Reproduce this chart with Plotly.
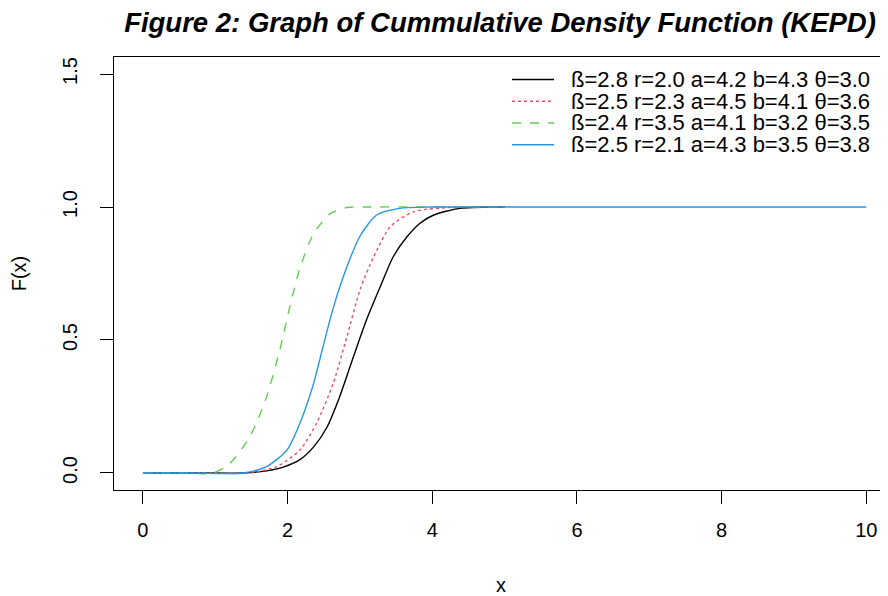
import plotly.graph_objects as go

# Values
x_black = [0, 0.8, 1.39, 1.71, 1.94, 2.17, 2.36, 2.54, 2.72, 2.91, 3.09, 3.28, 3.46, 3.65, 3.83, 4.02, 4.38, 4.94, 5.0]
F_black = [0, 0, 0, 0.008, 0.022, 0.050, 0.098, 0.170, 0.287, 0.437, 0.575, 0.700, 0.813, 0.888, 0.939, 0.970, 0.995, 1.0, 1.0]

x_red = [0, 0.8, 1.48, 1.85, 2.17, 2.40, 2.63, 2.82, 3.00, 3.19, 3.42, 3.74, 4.29, 5.0]
F_red = [0, 0, 0, 0.024, 0.086, 0.187, 0.337, 0.512, 0.688, 0.813, 0.926, 0.982, 0.999, 1.0]

x_green = [0, 0.5, 0.97, 1.20, 1.48, 1.71, 1.89, 2.03, 2.17, 2.36, 2.59, 2.82, 3.10, 5.0]
F_green = [0, 0, 0, 0.036, 0.137, 0.287, 0.460, 0.625, 0.770, 0.900, 0.975, 0.998, 1.0, 1.0]

x_blue = [0, 0.7, 1.38, 1.71, 1.99, 2.17, 2.36, 2.49, 2.63, 2.82, 3.00, 3.23, 3.55, 4.0, 10.0]
F_blue = [0, 0, 0, 0.024, 0.086, 0.187, 0.337, 0.475, 0.620, 0.775, 0.890, 0.970, 0.995, 1.0, 1.0]

labels = [
    "ß=2.8 r=2.0 a=4.2 b=4.3 θ=3.0",
    "ß=2.5 r=2.3 a=4.5 b=4.1 θ=3.6",
    "ß=2.4 r=3.5 a=4.1 b=3.2 θ=3.5",
    "ß=2.5 r=2.1 a=4.3 b=3.5 θ=3.8",
]
colors = ["#000000", "#DF536B", "#61D04F", "#2297E6"]
dashes = ["solid", "dot", "dash", "solid"]

x_ticks = [0, 2, 4, 6, 8, 10]
y_ticks = [0.0, 0.5, 1.0, 1.5]
y_tick_text = ["0.0", "0.5", "1.0", "1.5"]

FONT = "Liberation Sans, Arial, sans-serif"

# figure geometry (pixels; the page adds an 8 px body margin)
W, H = 880, 588
L, R, T, B = 106, 0, 49, 106
PW, PH = W - L - R, H - T - B


def px_x(p):
    return (p - L) / PW


def px_y(p):
    return (H - B - p) / PH


fig = go.Figure()
for xs, ys, lab, col, dsh in zip(
    [x_black, x_red, x_green, x_blue],
    [F_black, F_red, F_green, F_blue],
    labels, colors, dashes,
):
    fig.add_trace(go.Scatter(
        x=xs, y=ys, mode="lines", name=lab, showlegend=False,
        line=dict(color=col, width=1.4, dash=dsh, shape="spline", smoothing=0.7),
    ))

# legend drawn R-style (no box): line sample + label per row
leg_rows_px = [71.5, 93.3, 115.0, 136.7]
for i, (lab, col, dsh) in enumerate(zip(labels, colors, dashes)):
    yy = px_y(leg_rows_px[i])
    fig.add_shape(type="line", xref="paper", yref="paper",
                  x0=px_x(504), x1=px_x(546), y0=yy, y1=yy,
                  line=dict(color=col, width=1.4, dash=dsh))
    fig.add_annotation(xref="paper", yref="paper", x=px_x(562), y=yy,
                       xanchor="left", yanchor="middle", showarrow=False,
                       height=21, borderpad=0, valign="middle",
                       text=lab, font=dict(family=FONT, size=22, color="#000"))

fig.update_layout(
    width=W, height=H,
    margin=dict(l=L, r=R, t=T, b=B),
    paper_bgcolor="white", plot_bgcolor="white",
    font=dict(family=FONT, size=20, color="#000000"),
    title=dict(
        text="<b><i>Figure 2: Graph of Cummulative Density Function (KEPD)</i></b>",
        x=492 / W, xanchor="center", xref="container",
        y=1 - 14 / H, yanchor="middle", yref="container",
        font=dict(family=FONT, size=27.5, color="#000000"),
    ),
    showlegend=False,
)
fig.update_xaxes(
    range=[-0.4, 10.3], tickvals=x_ticks, ticks="outside", ticklen=13,
    tickcolor="#000", showline=True, linecolor="#000", linewidth=1, mirror=True,
    showgrid=False, zeroline=False, ticklabelstandoff=9, automargin=False,
    tickfont=dict(size=20),
    title=dict(text="x", standoff=38, font=dict(size=20)),
)
fig.update_yaxes(
    range=[-0.064, 1.564], tickvals=y_ticks, ticktext=y_tick_text, tickangle=-90,
    ticks="outside", ticklen=13, tickcolor="#000", showline=True, linecolor="#000",
    linewidth=1, mirror=False, showgrid=False, zeroline=False, ticklabelstandoff=15,
    automargin=False, tickfont=dict(size=20),
    title=dict(text="F(x)", standoff=27, font=dict(size=20)),
)

fig.write_html("out.html")
